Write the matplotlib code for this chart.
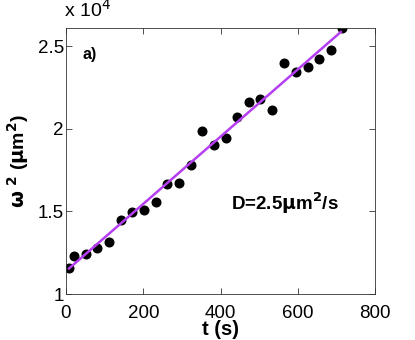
import matplotlib
matplotlib.use("Agg")
import matplotlib.pyplot as plt

plt.rcParams['font.family'] = ['Liberation Sans', 'DejaVu Sans']

# data (omega^2 in units of 1e4 um^2)
t_s = [8, 21, 51, 81, 111, 142, 172, 202, 232, 262, 293, 323, 353, 383,
       413, 443, 473, 503, 534, 564, 594, 625, 655, 685, 714]
w2 = [1.158, 1.231, 1.245, 1.278, 1.314, 1.450, 1.498, 1.510, 1.560, 1.664,
      1.670, 1.780, 1.989, 1.900, 1.947, 2.073, 2.160, 2.180, 2.111, 2.398,
      2.342, 2.376, 2.424, 2.476, 2.608]
fit_t = [8, 711]
fit_w2 = [1.155, 2.585]

xticks = [0, 200, 400, 600, 800]
yticks = [1, 1.5, 2, 2.5]
ytick_labels = ['1', '1.5', '2', '2.5']

fig = plt.figure(figsize=(4.15, 3.4), dpi=100)
ax = fig.add_axes([0.159, 0.135, 0.745, 0.783])

ax.plot(t_s, w2, 'o', color='black', ms=6.2, zorder=2)
ax.plot(fit_t, fit_w2, '-', color='#b53ef2', lw=1.8, zorder=3)

ax.set_xlim(0, 800)
ax.set_ylim(1, 2.61)
ax.set_xticks(xticks)
ax.set_xticklabels([str(v) for v in xticks])
ax.set_yticks(yticks)
ax.set_yticklabels(ytick_labels)
ax.tick_params(direction='in', top=True, right=True, labelsize=13.5, length=4,
               width=0.6, color='#333333')
ax.tick_params(axis='x', pad=7.5)
ax.tick_params(axis='y', pad=1.5)
for s in ax.spines.values():
    s.set_linewidth(0.6)
    s.set_color('#333333')

ax.set_xlabel('t (s)', fontsize=14.5, fontweight='bold', labelpad=-1)
ax.set_ylabel(r'$\mathbf{\omega}$ $^{\mathbf{2}}$ ($\mathbf{\mu}$m$^{\mathbf{2}}$)',
              fontsize=14, fontweight='bold', labelpad=5)

fig.text(0.155, 0.94, r'x 10$^{4}$', fontsize=14, ha='left', va='bottom')
ax.text(0.055, 0.9, 'a)', transform=ax.transAxes, fontsize=11.5, fontweight='bold',
        ha='left', va='center')
ax.text(0.535, 0.34, r'D=2.5$\mathbf{\mu}$m$^{\mathbf{2}}$/s', transform=ax.transAxes,
        fontsize=13.5, fontweight='bold', ha='left', va='center')

fig.savefig('out.png', dpi=100)
